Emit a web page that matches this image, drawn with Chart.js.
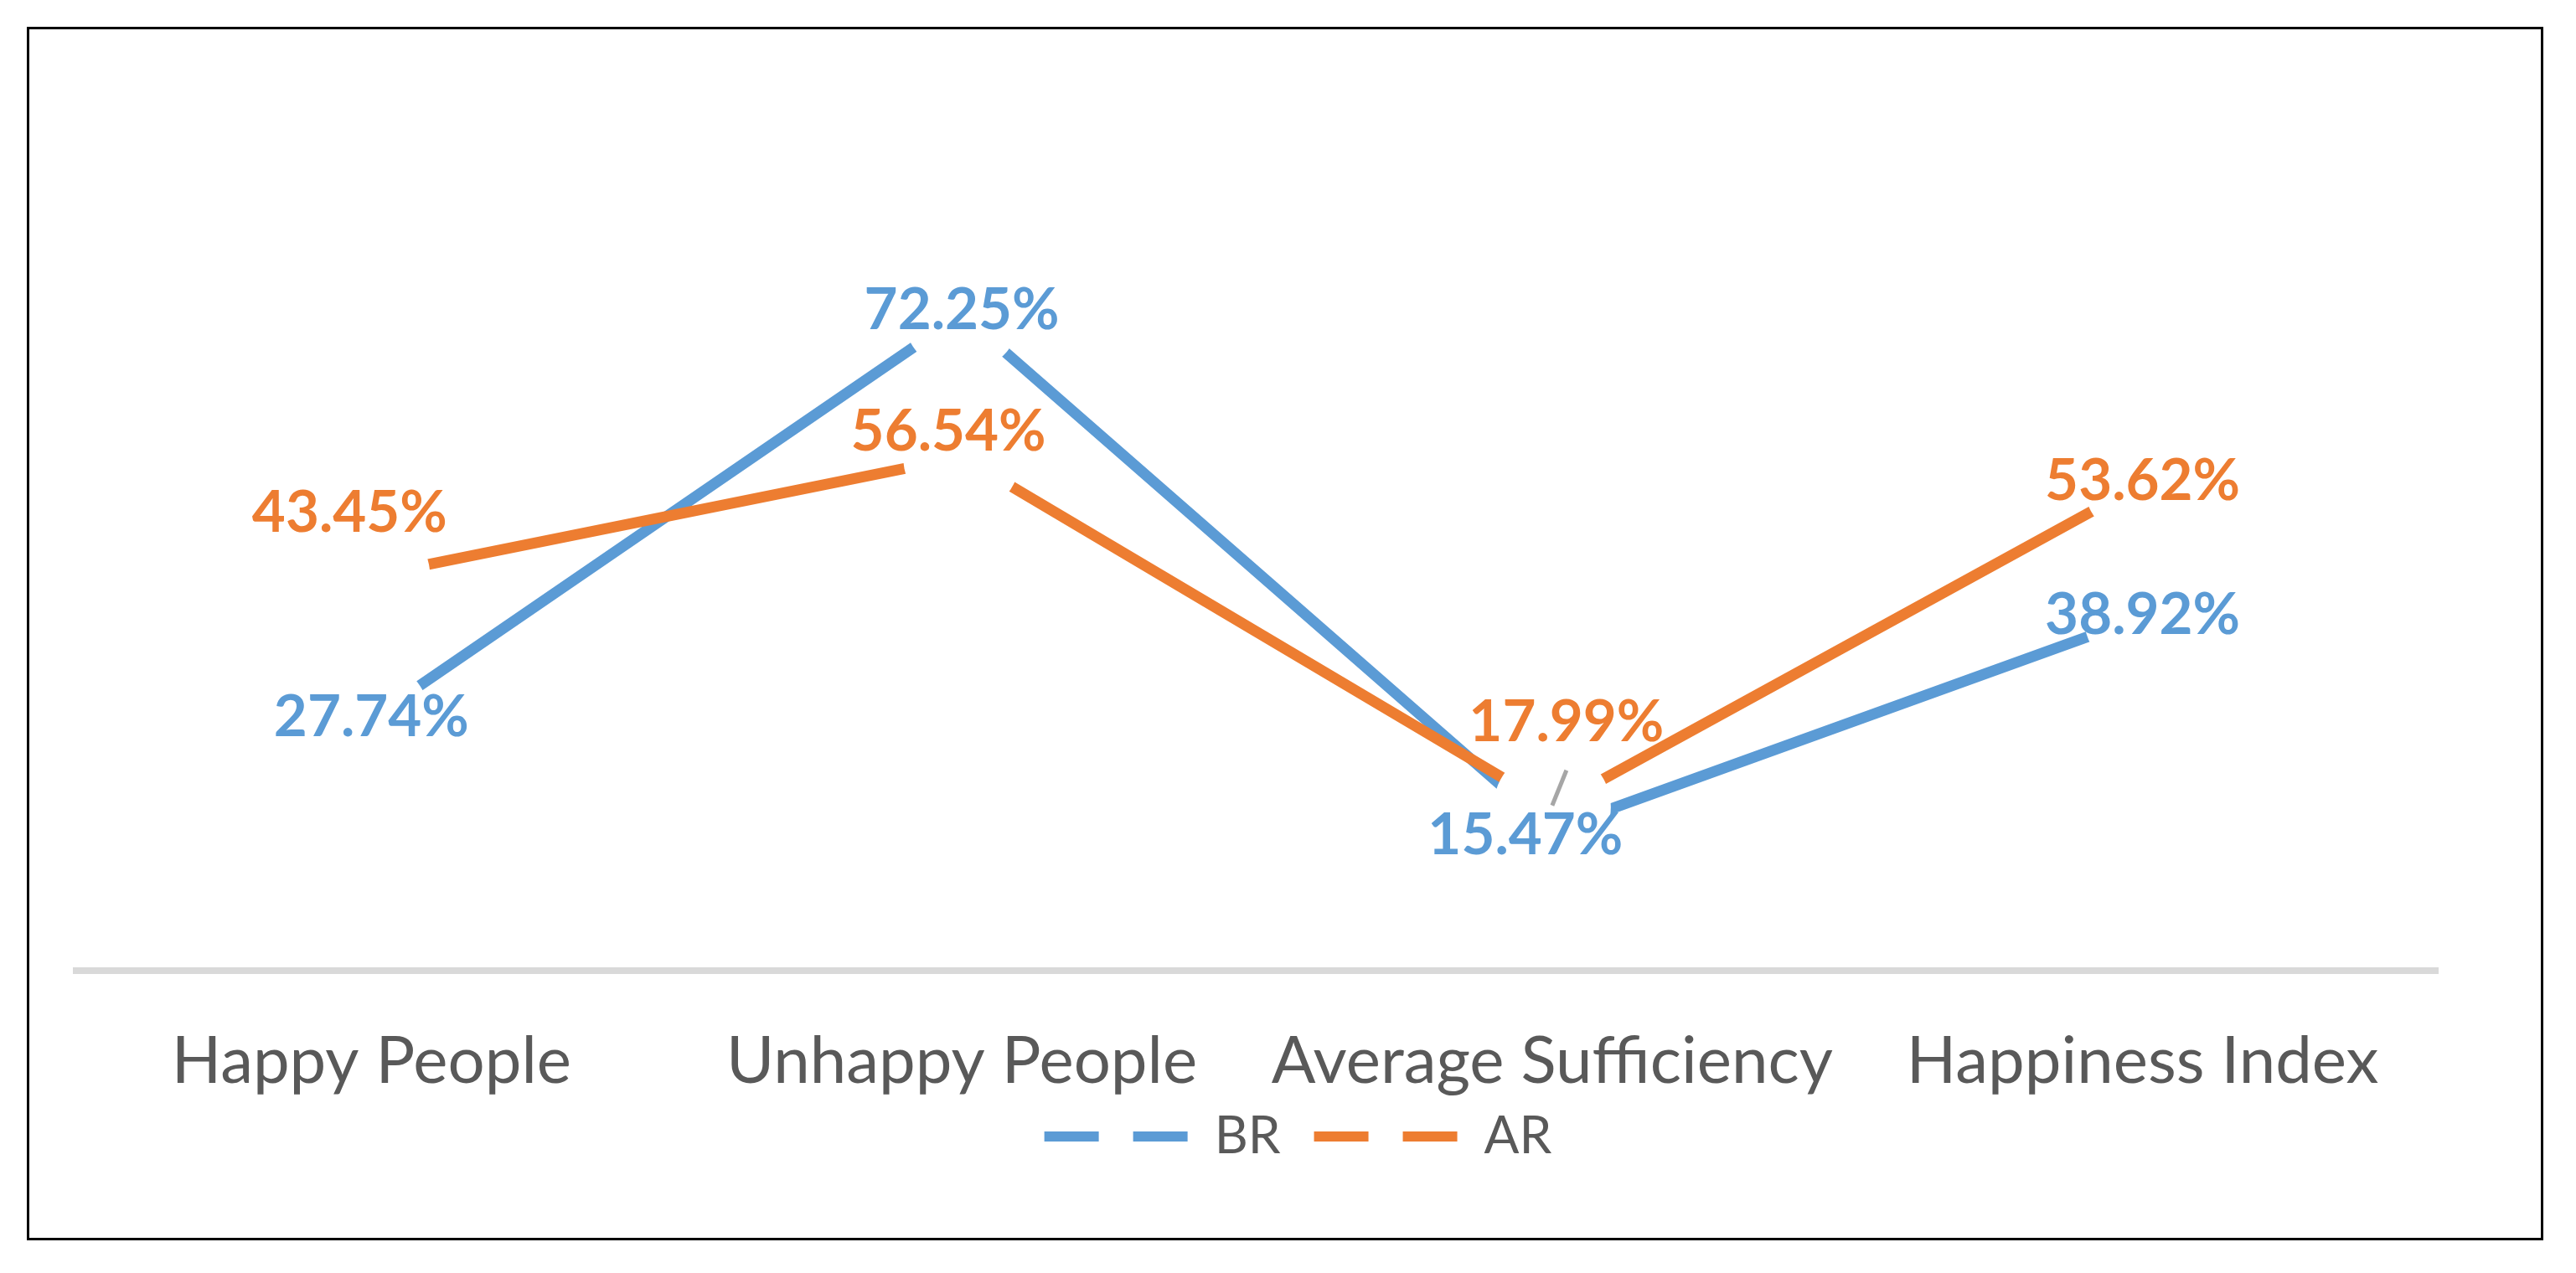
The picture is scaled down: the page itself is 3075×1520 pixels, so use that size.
<!DOCTYPE html>
<html>
<head>
<meta charset="utf-8">
<script src="https://cdn.jsdelivr.net/npm/chart.js@4.4.1/dist/chart.umd.min.js"></script>
<style>
  html, body { margin: 0; padding: 0; background: #fff; }
</style>
</head>
<body>
<canvas id="happinessChart" width="3075" height="1520"></canvas>
<script>
const categories = ['Happy People', 'Unhappy People', 'Average Sufficiency', 'Happiness Index'];
const brValues = [27.74, 72.25, 15.47, 38.92];
const arValues = [43.45, 56.54, 17.99, 53.62];

const BLUE = '#5B9BD5';
const ORANGE = '#ED7D31';
const TEXT = '#595959';
const FONT = 'Lato, "Open Sans", sans-serif';

// Excel moved a few labels off their points; nudges in px
const brLabelShift = [[0, -1], [0, -4], [-32, 7], [0, -2]];
const arLabelShift = [[-26, -75], [-16, -30], [17, -101], [0, -2]];
const arLeader = [false, false, true, false];

const frame = {
  id: 'frame',
  beforeDraw(chart) {
    const ctx = chart.ctx;
    ctx.save();
    ctx.fillStyle = '#fff';
    ctx.fillRect(0, 0, chart.width, chart.height);
    ctx.strokeStyle = '#000';
    ctx.lineWidth = 3;
    ctx.strokeRect(33.5, 33.5, 3001, 1446);
    ctx.restore();
  },
  afterLayout(chart) {
    // the legend tucks up under the axis labels and sits right of centre
    const lg = chart.legend;
    lg.left += 49;
    lg.right += 49;
    lg.top -= 33;
    lg.bottom -= 33;
  }
};

const valueLabels = {
  id: 'valueLabels',
  afterDatasetsDraw(chart) {
    const ctx = chart.ctx;
    const items = [];
    chart.data.datasets.forEach((ds, di) => {
      chart.getDatasetMeta(di).data.forEach((pt, i) => {
        const [dx, dy] = ds.labelShift[i];
        items.push({
          px: pt.x, py: pt.y,
          x: pt.x + dx, y: pt.y + dy,
          text: ds.data[i].toFixed(2) + '%',
          color: ds.borderColor,
          leader: ds.leader && ds.leader[i]
        });
      });
    });
    ctx.save();
    // white discs round every point break the lines, as in the original
    ctx.fillStyle = '#fff';
    items.forEach(it => {
      ctx.beginPath();
      ctx.arc(it.px, it.py, 70, 0, Math.PI * 2);
      ctx.fill();
    });
    items.forEach(it => {
      if (!it.leader) return;
      ctx.strokeStyle = '#A6A6A6';
      ctx.lineWidth = 5;
      ctx.beginPath();
      ctx.moveTo(it.x, it.y + 57);
      ctx.lineTo(it.px, it.py - 2);
      ctx.stroke();
    });
    ctx.font = 'bold 69px ' + FONT;
    ctx.textAlign = 'center';
    ctx.textBaseline = 'middle';
    items.forEach(it => {
      ctx.fillStyle = it.color;
      ctx.fillText(it.text, it.x, it.y);
    });
    ctx.restore();
  }
};

new Chart(document.getElementById('happinessChart'), {
  type: 'line',
  data: {
    labels: categories,
    datasets: [
      {
        label: 'BR',
        data: brValues,
        borderColor: BLUE,
        backgroundColor: BLUE,
        labelShift: brLabelShift,
        order: 1
      },
      {
        label: 'AR',
        data: arValues,
        borderColor: ORANGE,
        backgroundColor: ORANGE,
        labelShift: arLabelShift,
        leader: arLeader,
        order: 0
      }
    ]
  },
  options: {
    responsive: false,
    devicePixelRatio: 1,
    animation: false,
    datasets: {
      line: {
        borderWidth: 13,
        pointRadius: 0,
        tension: 0,
        fill: false
      }
    },
    layout: {
      padding: { left: 91, right: 165, top: 74, bottom: 89 }
    },
    scales: {
      x: {
        offset: true,
        grid: { display: false, drawTicks: false },
        border: { display: true, color: '#D9D9D9', width: 8 },
        ticks: {
          color: TEXT,
          font: { family: FONT, size: 78 },
          padding: 62,
          maxRotation: 0,
          autoSkip: false
        },
        afterFit(scale) {
          scale.height = 160;
        }
      },
      y: {
        display: false,
        min: 0,
        max: 100
      }
    },
    plugins: {
      tooltip: { enabled: false },
      legend: {
        position: 'bottom',
        labels: {
          usePointStyle: true,
          pointStyleWidth: 172,
          color: TEXT,
          font: { family: FONT, size: 62 },
          padding: 40,
          generateLabels(chart) {
            return chart.data.datasets.map((ds, i) => ({
              text: ds.label,
              fillStyle: ds.borderColor,
              strokeStyle: ds.borderColor,
              fontColor: TEXT,
              lineWidth: 12,
              lineDash: [65, 41],
              lineCap: 'butt',
              pointStyle: 'line',
              hidden: false,
              datasetIndex: i
            }));
          }
        }
      }
    }
  },
  plugins: [frame, valueLabels]
});
</script>
</body>
</html>
